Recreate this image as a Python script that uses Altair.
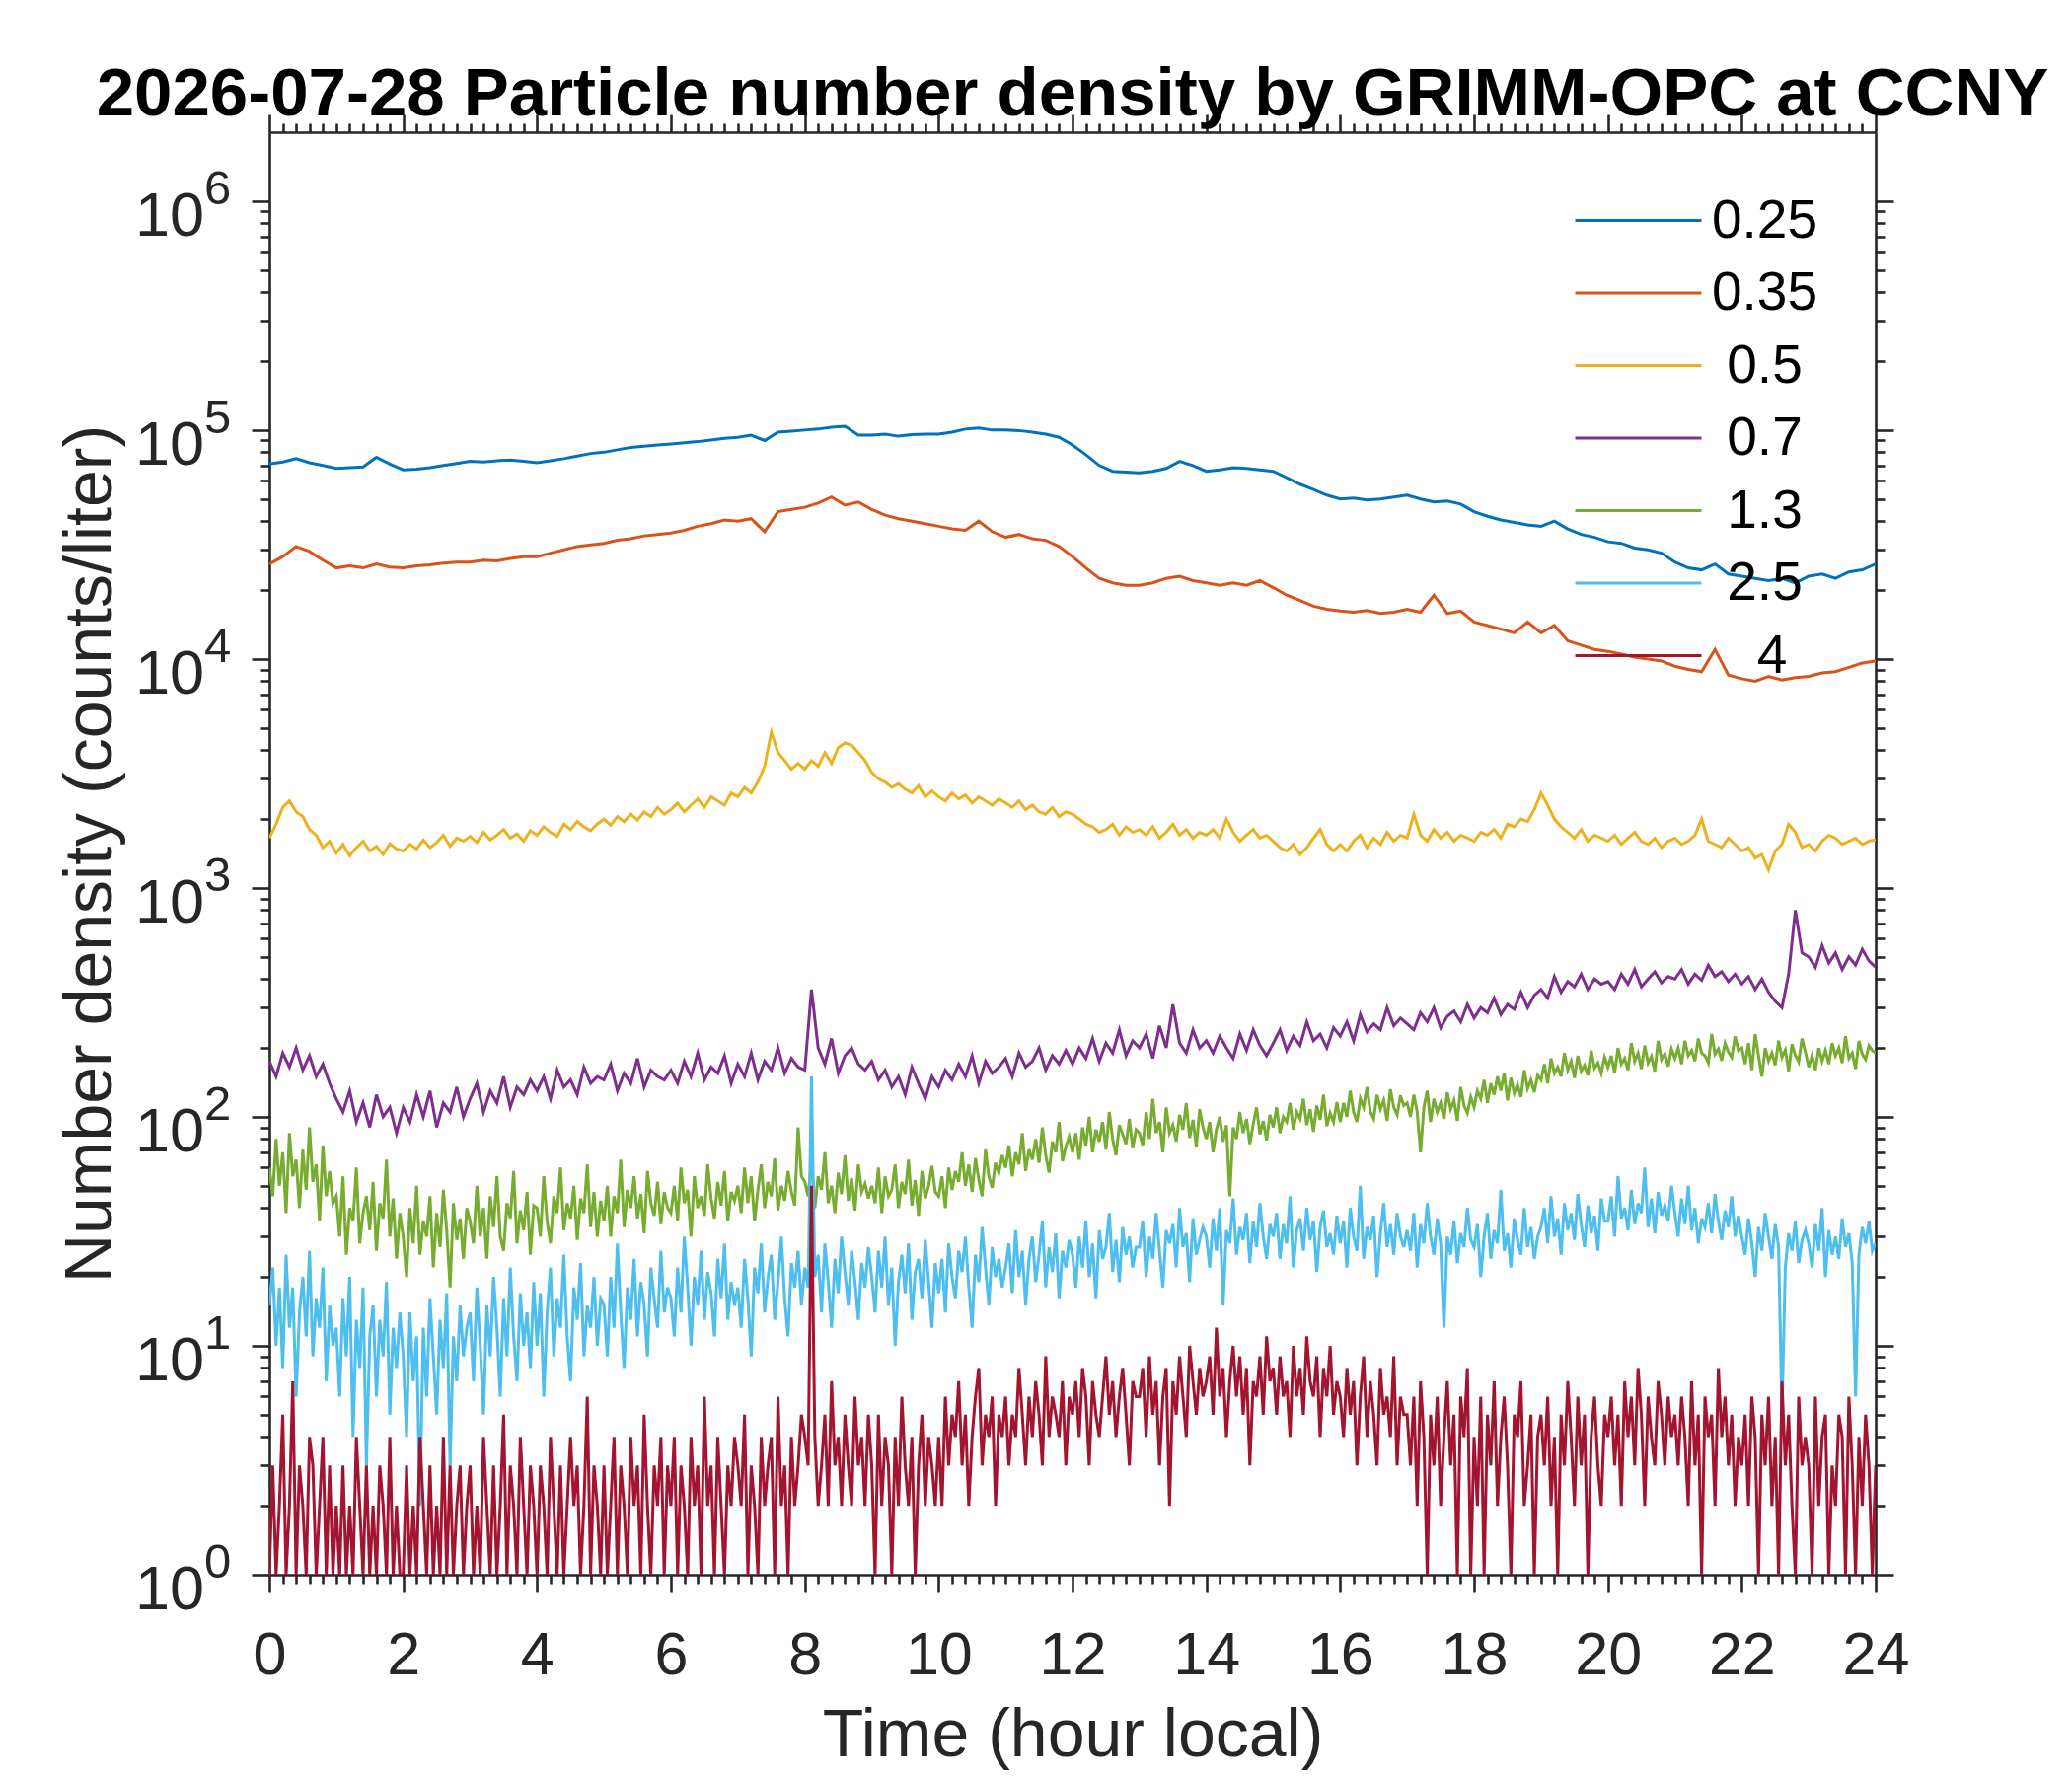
import altair as alt
import numpy as np
import pandas as pd

# time axis (hours): smooth channels read every 0.2 h, noisier ones every 0.1 h / 0.05 h
hours_coarse = np.round(np.arange(0, 24.001, 0.2), 2)
hours_mid = np.round(np.arange(0, 24.001, 0.1), 2)
hours_fine = np.round(np.arange(0, 24.001, 0.05), 2)

# particle size channels (um) as shown in the legend (padded like MATLAB num2str), MATLAB colours
# a zero-width space keeps Vega from trimming the leading spaces
pad = "\u200b\u00a0"
size_labels = ["0.25", "0.35", pad + "0.5", pad + "0.7", pad + "1.3", pad + "2.5",
               pad + "\u00a0\u00a04"]
colors = ["#0072BD", "#D95319", "#EDB120", "#7E2F8E", "#77AC30", "#4DBEEE", "#A2142F"]

# 0.25 um (every 0.2 h)
n_025 = [71000, 72500, 75000, 72000, 70000,
         68000, 68500, 69000, 76000, 71000,
         67000, 67500, 68500, 70000, 71500,
         73000, 72500, 73500, 74000, 73000,
         72000, 73500, 75000, 77000, 79000,
         80000, 82000, 84000, 85000, 86000,
         87000, 88000, 89000, 90500, 92000,
         93000, 95000, 90000, 98000, 99000,
         100000, 101000, 103000, 104000, 95000,
         95000, 96000, 94000, 95500, 96000,
         96000, 98000, 101000, 102000, 100000,
         100000, 99500, 98000, 96000, 93000,
         86000, 78000, 70000, 66000, 65500,
         65000, 66000, 68000, 73000, 70000,
         66000, 67000, 68500, 68000, 67000,
         66000, 62000, 58000, 55000, 52000,
         50000, 50500, 49500, 50000, 51000,
         52000, 50000, 48500, 49000, 47500,
         44000, 42000, 40500, 39500, 38500,
         38000, 40000, 37000, 35000, 34000,
         32500, 32000, 30500, 30000, 29000,
         26500, 25000, 24500, 26000, 23500,
         23000, 22500, 22000, 22500, 21500,
         23000, 23500, 22500, 24000, 24500,
         26000]

# 0.35 um (every 0.2 h)
n_035 = [26000, 28000, 31000, 29500, 27000,
         25000, 25500, 25000, 26000, 25200,
         25000, 25500, 25800, 26200, 26500,
         26500, 27000, 26800, 27500, 28000,
         28000, 29000, 30000, 31000, 31500,
         32000, 33000, 33500, 34500, 35000,
         35500, 36500, 38000, 39000, 40500,
         40000, 41000, 36000, 44000, 45000,
         46000, 48000, 51000, 47000, 48500,
         45000, 42500, 41000, 40000, 39000,
         38000, 37000, 36500, 40000, 36000,
         34000, 35000, 33500, 33000, 31000,
         28000, 25000, 22500, 21500, 21000,
         21000, 21500, 22500, 23000, 22000,
         21500, 21000, 21500, 21000, 22000,
         20500, 19000, 18000, 17000, 16500,
         16200, 16000, 16300, 15800, 16000,
         16500, 16000, 19000, 15800, 16200,
         14500, 14000, 13500, 13000, 14500,
         13000, 14000, 12000, 11500, 11000,
         10800, 10500, 10200, 10000, 9800,
         9300, 9000, 8800, 11000, 8500,
         8200, 8000, 8400, 8100, 8300,
         8400, 8700, 8800, 9200, 9600,
         9800]

# 0.5 um (every 0.1 h)
n_05 = [1650, 1900, 2250, 2400, 2150, 2050, 1800, 1700, 1500, 1600,
        1420, 1550, 1380, 1500, 1600, 1450, 1520, 1400, 1560, 1480,
        1450, 1550, 1480, 1620, 1500, 1580, 1700, 1520, 1650, 1600,
        1680, 1580, 1750, 1620, 1700, 1800, 1650, 1720, 1600, 1780,
        1700, 1850, 1750, 1680, 1900, 1800, 1950, 1850, 1780, 1900,
        2000, 1880, 2050, 1950, 2100, 1980, 2150, 2050, 2250, 2100,
        2200, 2350, 2150, 2300, 2450, 2250, 2500, 2400, 2300, 2600,
        2500, 2750, 2600, 2900, 3400, 4800, 3900, 3600, 3300, 3500,
        3300, 3600, 3400, 3900, 3500, 4100, 4300, 4200, 3900, 3600,
        3200, 3000, 2900, 2750, 2850, 2700, 2600, 2800, 2500, 2650,
        2500, 2400, 2600, 2450, 2550, 2350, 2500, 2400, 2300, 2450,
        2350, 2250, 2400, 2200, 2300, 2150, 2100, 2250, 2050, 2150,
        2100, 2000, 1900, 1850, 1750, 1800, 1900, 1700, 1850, 1750,
        1800, 1700, 1850, 1650, 1750, 1900, 1700, 1800, 1650, 1750,
        1700, 1800, 1650, 2000, 1750, 1600, 1700, 1800, 1650, 1700,
        1600, 1500, 1450, 1550, 1400, 1500, 1650, 1800, 1550, 1450,
        1550, 1450, 1600, 1700, 1500, 1650, 1550, 1750, 1600, 1700,
        1650, 2100, 1700, 1600, 1800, 1650, 1750, 1600, 1700, 1650,
        1600, 1750, 1700, 1800, 1650, 1900, 1850, 2000, 1950, 2200,
        2600, 2300, 2000, 1850, 1750, 1650, 1800, 1600, 1700, 1650,
        1600, 1700, 1550, 1650, 1750, 1600, 1550, 1650, 1500, 1600,
        1650, 1550, 1600, 1700, 2000, 1600, 1550, 1500, 1650, 1550,
        1450, 1500, 1350, 1400, 1200, 1450, 1550, 1900, 1750, 1500,
        1550, 1450, 1600, 1700, 1650, 1550, 1600, 1650, 1550, 1600,
        1620]

# 0.7 um (every 0.1 h)
n_07 = [175, 150, 190, 165, 200, 160, 185, 150, 170, 140,
        120, 105, 130, 95, 115, 90, 125, 100, 110, 85,
        110, 95, 125, 100, 130, 90, 115, 105, 135, 100,
        120, 140, 105, 130, 115, 150, 110, 135, 125, 145,
        130, 150, 120, 160, 135, 145, 125, 165, 140, 150,
        145, 170, 130, 155, 140, 180, 135, 160, 150, 145,
        160, 140, 175, 150, 190, 145, 165, 155, 185, 140,
        170, 150, 190, 145, 175, 160, 200, 155, 180, 165,
        160, 360, 200, 170, 220, 155, 185, 200, 170, 160,
        175, 145, 160, 135, 150, 125, 165, 140, 120, 150,
        135, 160, 145, 170, 150, 185, 140, 175, 155, 165,
        180, 150, 190, 165, 175, 200, 160, 185, 170, 195,
        170, 200, 180, 220, 175, 210, 190, 240, 185, 215,
        200, 230, 180, 250, 200, 310, 210, 190, 240, 200,
        215, 190, 225, 200, 180, 230, 195, 240, 205, 185,
        210, 240, 195, 225, 205, 260, 215, 230, 200, 245,
        225, 260, 215, 280, 235, 255, 240, 300, 250, 270,
        255, 240, 285, 260, 300, 245, 275, 290, 260, 310,
        270, 300, 285, 330, 280, 310, 295, 350, 300, 340,
        360, 330, 410, 350, 390, 370, 420, 360, 400, 380,
        390, 360, 420, 380, 440, 370, 400, 430, 385, 410,
        400, 440, 380, 420, 395, 460, 410, 430, 390, 420,
        380, 410, 360, 400, 350, 320, 300, 420, 800, 520,
        500, 450, 560, 470, 520, 440, 500, 460, 540, 480,
        450]

# 1.3 um (every 0.05 h)
n_13 = [60, 45, 80, 50, 70, 38, 85, 55, 65, 40,
        72, 48, 90, 52, 62, 35, 75, 45, 58, 42,
        45, 30, 55, 25, 40, 35, 60, 28, 38, 45,
        32, 52, 26, 42, 36, 65, 30, 44, 24, 38,
        30, 20, 40, 28, 50, 25, 35, 30, 45, 22,
        38, 27, 48, 32, 18, 42, 29, 36, 24, 40,
        35, 28, 50, 30, 40, 24, 45, 33, 55, 30,
        26, 42, 36, 58, 28, 39, 32, 47, 25, 41,
        40, 30, 55, 35, 28, 45, 38, 60, 32, 42,
        36, 50, 29, 44, 38, 62, 33, 47, 30, 43,
        35, 50, 30, 45, 38, 65, 33, 48, 40, 55,
        36, 46, 31, 58, 42, 37, 52, 34, 47, 40,
        38, 50, 35, 60, 42, 48, 30, 55, 40, 45,
        37, 62, 44, 36, 52, 41, 58, 35, 47, 43,
        50, 38, 60, 42, 55, 35, 48, 62, 40, 52,
        45, 66, 39, 50, 43, 58, 47, 41, 90, 55,
        52, 45, 65, 40, 55, 48, 70, 42, 50, 38,
        57, 46, 68, 43, 54, 39, 62, 47, 51, 44,
        50, 42, 60, 38, 55, 45, 48, 62, 40, 52,
        46, 65, 41, 53, 37, 58, 44, 50, 61, 47,
        45, 55, 40, 60, 48, 58, 52, 70, 50, 62,
        47, 66, 53, 45, 72, 55, 49, 63, 57, 68,
        60, 75, 55, 70, 62, 85, 58, 72, 65, 80,
        63, 90, 68, 57, 78, 70, 95, 64, 74, 82,
        70, 85, 65, 90, 75, 100, 70, 88, 78, 95,
        72, 105, 80, 68, 92, 84, 76, 98, 73, 88,
        85, 75, 105, 80, 120, 85, 95, 70, 110, 85,
        92, 78, 102, 88, 115, 81, 97, 74, 108, 90,
        80, 95, 70, 88, 100, 78, 92, 45, 90, 80,
        105, 85, 98, 76, 93, 110, 84, 96, 79, 102,
        90, 110, 85, 100, 95, 115, 88, 105, 98, 120,
        92, 108, 86, 112, 97, 125, 91, 104, 95, 116,
        95, 115, 100, 130, 105, 95, 120, 110, 135, 105,
        98, 125, 108, 118, 96, 132, 110, 102, 124, 112,
        115, 100, 125, 105, 70, 110, 130, 95, 120, 105,
        115, 98, 128, 108, 118, 96, 135, 112, 104, 122,
        110, 130, 120, 145, 115, 140, 125, 150, 130, 155,
        118, 148, 127, 138, 122, 160, 133, 145, 128, 152,
        145, 170, 140, 180, 155, 165, 150, 190, 160, 175,
        148, 185, 158, 168, 152, 195, 163, 172, 155, 182,
        165, 185, 155, 200, 170, 180, 160, 210, 175, 190,
        162, 205, 172, 184, 158, 215, 178, 188, 166, 198,
        180, 200, 170, 215, 185, 195, 175, 220, 190, 185,
        172, 230, 188, 198, 176, 210, 192, 182, 225, 195,
        200, 170, 210, 160, 230, 185, 150, 200, 175, 190,
        168, 215, 182, 196, 158, 208, 186, 174, 220, 192,
        165, 185, 160, 200, 175, 195, 170, 210, 185, 200,
        172, 225, 180, 190, 162, 215, 188, 178, 205, 195,
        190]

# 2.5 um (every 0.05 h)
n_25 = [15, 22, 10, 18, 8, 25, 12, 18, 6, 14,
        20, 11, 26, 9, 16, 12, 22, 7, 15, 10,
        12, 6, 16, 9, 20, 4, 13, 8, 18, 3,
        11, 15, 6, 13, 9, 19, 5, 12, 8, 14,
        9, 4, 14, 7, 11, 2, 12, 6, 16, 9,
        5, 13, 8, 17, 3, 11, 7, 15, 9, 12,
        14, 7, 18, 10, 5, 15, 9, 20, 12, 6,
        16, 9, 22, 11, 7, 17, 10, 14, 8, 19,
        10, 17, 6, 14, 22, 9, 16, 12, 25, 11,
        7, 18, 13, 23, 9, 15, 12, 20, 10, 16,
        15, 9, 20, 12, 28, 14, 8, 18, 13, 24,
        11, 19, 15, 9, 22, 16, 12, 26, 14, 18,
        16, 11, 22, 14, 30, 18, 10, 20, 15, 26,
        13, 21, 17, 11, 24, 16, 28, 13, 19, 15,
        18, 12, 24, 16, 9, 22, 17, 28, 14, 20,
        25, 13, 19, 30, 16, 11, 23, 18, 26, 15,
        22, 18, 150, 20, 25, 14, 28, 19, 12, 24,
        17, 30, 21, 15, 26, 19, 13, 23, 18, 27,
        20, 14, 26, 18, 30, 15, 22, 10, 19, 25,
        17, 28, 13, 21, 24, 16, 29, 19, 12, 23,
        17, 24, 14, 28, 20, 16, 26, 21, 30, 18,
        12, 25, 19, 33, 22, 15, 27, 20, 24, 18,
        22, 28, 17, 32, 20, 26, 15, 24, 30, 19,
        25, 35, 18, 27, 21, 31, 16, 26, 22, 29,
        25, 18, 30, 22, 35, 20, 28, 16, 32, 24,
        27, 38, 21, 29, 19, 33, 25, 30, 22, 27,
        27, 35, 20, 30, 24, 38, 26, 18, 32, 28,
        34, 22, 40, 27, 31, 19, 36, 25, 29, 33,
        30, 22, 36, 26, 40, 15, 32, 28, 44, 25,
        33, 29, 38, 23, 35, 27, 42, 30, 24, 34,
        30, 38, 24, 34, 28, 45, 22, 32, 36, 26,
        40, 29, 35, 21, 33, 39, 27, 31, 25, 37,
        28, 35, 22, 40, 30, 26, 50, 24, 33, 29,
        37, 20, 31, 42, 27, 34, 25, 38, 30, 27,
        32, 26, 38, 22, 34, 28, 42, 30, 25, 36,
        28, 12, 30, 25, 35, 23, 31, 27, 40, 29,
        27, 34, 20, 30, 38, 24, 32, 28, 48, 26,
        31, 22, 36, 29, 25, 40, 27, 33, 24, 30,
        33, 40, 28, 45, 30, 36, 25, 42, 32, 38,
        29, 46, 34, 27, 41, 31, 37, 26, 44, 35,
        35, 45, 30, 55, 36, 40, 32, 48, 34, 42,
        38, 60, 33, 44, 31, 47, 37, 41, 35, 50,
        38, 30, 44, 34, 50, 32, 40, 28, 36, 33,
        42, 31, 46, 35, 29, 39, 33, 45, 30, 37,
        30, 25, 36, 28, 20, 33, 26, 38, 30, 24,
        34, 27, 5, 22, 31, 26, 35, 23, 29, 32,
        28, 22, 34, 26, 40, 20, 32, 25, 30, 24,
        36, 27, 31, 23, 6, 25, 33, 28, 35, 26,
        28]

# 4 um (every 0.05 h)
n_4 = [1, 3, 1, 2, 5, 1, 2, 7, 1, 3,
       2, 1, 4, 3, 1, 2, 4, 1, 3, 1,
       2, 1, 3, 1, 2, 1, 4, 2, 1, 3,
       1, 2, 1, 3, 2, 1, 4, 1, 2, 1,
       1, 3, 1, 2, 1, 4, 2, 1, 3, 1,
       2, 1, 4, 1, 3, 1, 2, 3, 1, 2,
       3, 1, 2, 1, 4, 2, 1, 3, 1, 2,
       5, 1, 3, 2, 1, 4, 2, 1, 3, 2,
       1, 3, 2, 1, 4, 2, 1, 3, 1, 2,
       4, 2, 3, 1, 2, 6, 1, 3, 2, 1,
       3, 1, 2, 4, 1, 3, 2, 1, 4, 2,
       3, 1, 5, 2, 1, 3, 2, 4, 1, 3,
       2, 4, 1, 3, 2, 1, 4, 2, 3, 1,
       6, 2, 3, 1, 4, 2, 1, 3, 2, 4,
       3, 2, 5, 1, 3, 2, 1, 4, 2, 3,
       4, 1, 6, 2, 3, 1, 4, 2, 3, 5,
       4, 3, 50, 4, 2, 3, 5, 2, 7, 3,
       4, 2, 5, 3, 2, 6, 3, 4, 2, 5,
       3, 1, 5, 2, 4, 3, 1, 4, 2, 6,
       3, 2, 4, 1, 3, 5, 2, 4, 3, 2,
       4, 2, 6, 3, 5, 4, 7, 3, 5, 2,
       4, 6, 8, 3, 5, 4, 6, 2, 5, 4,
       6, 3, 5, 4, 8, 5, 3, 6, 4, 7,
       5, 3, 9, 4, 6, 5, 4, 7, 3, 6,
       5, 7, 4, 8, 6, 3, 7, 5, 4, 6,
       9, 5, 7, 4, 6, 8, 5, 3, 7, 6,
       6, 8, 4, 9, 5, 7, 3, 6, 8, 2,
       7, 5, 9, 6, 4, 10, 7, 5, 8, 6,
       7, 9, 5, 12, 6, 8, 4, 7, 10, 6,
       9, 5, 8, 3, 7, 6, 9, 5, 11, 7,
       8, 5, 9, 6, 7, 4, 10, 6, 8, 5,
       11, 7, 6, 9, 4, 8, 6, 10, 5, 7,
       6, 4, 8, 5, 7, 3, 6, 9, 4, 7,
       5, 3, 8, 5, 6, 4, 9, 3, 6, 5,
       5, 3, 6, 2, 7, 4, 1, 5, 3, 6,
       2, 4, 7, 3, 5, 1, 6, 4, 8, 1,
       4, 2, 6, 1, 5, 3, 7, 2, 4, 6,
       3, 1, 5, 4, 7, 2, 3, 5, 1, 4,
       5, 3, 6, 2, 4, 1, 5, 3, 7, 4,
       2, 6, 3, 5, 1, 4, 6, 3, 2, 5,
       4, 6, 3, 5, 2, 7, 4, 6, 3, 8,
       5, 2, 6, 4, 3, 7, 5, 3, 6, 4,
       5, 3, 6, 4, 2, 7, 3, 5, 1, 6,
       4, 5, 2, 8, 4, 6, 3, 5, 2, 4,
       3, 5, 2, 6, 4, 1, 5, 3, 6, 2,
       4, 1, 7, 3, 5, 2, 1, 6, 3, 4,
       3, 1, 6, 2, 4, 5, 1, 3, 2, 5,
       4, 1, 6, 3, 1, 4, 2, 5, 3, 1,
       3]

series = [n_025, n_035, n_05, n_07, n_13, n_25, n_4]
grids = [hours_coarse, hours_coarse, hours_mid, hours_mid, hours_fine, hours_fine, hours_fine]

frames = []
for label, hrs, vals in zip(size_labels, grids, series):
    assert len(hrs) == len(vals), (label, len(hrs), len(vals))
    frames.append(pd.DataFrame({"hour": hrs, "n": vals, "size": label}))
df = pd.concat(frames, ignore_index=True)

# tick positions
x_major = list(range(0, 25, 2))
x_minor = [round(h, 1) for h in np.arange(0, 24.001, 0.2) if abs(h / 2 - round(h / 2)) > 1e-6]
exponents = list(range(0, 7))
y_major = [10 ** k for k in exponents]
y_minor = [m * 10 ** k for k in range(0, 6) for m in range(2, 10)]
decades = pd.DataFrame({"v": y_major, "exp": [str(k) for k in exponents]})

axis_gray = "#262626"
font = "Liberation Sans"

xs = alt.Scale(domain=[0, 24], nice=False, zero=False)
ys = alt.Scale(type="log", domain=[1, 2e6], nice=False)

base = alt.Chart(df)

lines = base.mark_line(strokeWidth=3, clip=True).encode(
    x=alt.X("hour:Q", scale=xs, axis=alt.Axis(
        orient="bottom", values=x_major, format="d", tickSize=18,
        labelFontSize=61, labelPadding=34, labelFlush=False, labelOverlap=False,
        title="Time (hour local)", titleY=183, titleBaseline="alphabetic")),
    y=alt.Y("n:Q", scale=ys, axis=alt.Axis(
        orient="left", values=y_major, labels=False, tickSize=18,
        title="Number density (counts/liter)", titleX=-161, titleBaseline="alphabetic")),
    color=alt.Color("size:N", scale=alt.Scale(domain=size_labels, range=colors),
                    legend=alt.Legend(
                        title=None, orient="none", legendX=1322, legendY=62, padding=0,
                        symbolType="M-5,0H5", symbolSize=655, symbolStrokeWidth=3,
                        symbolOffset=38, labelOffset=47, rowPadding=17.5,
                        labelFontSize=55, labelFont=font, labelColor="black", labelLimit=0)),
)

# invisible layers that only carry the extra axes (minor ticks, top and right box)
ghost = base.mark_line(strokeOpacity=0, clip=True)

minor_bl = ghost.encode(
    x=alt.X("hour:Q", scale=xs, axis=alt.Axis(orient="bottom", values=x_minor, labels=False,
                                             tickSize=9, domain=False, title=None)),
    y=alt.Y("n:Q", scale=ys, axis=alt.Axis(orient="left", values=y_minor, labels=False,
                                          tickSize=9, domain=False, title=None)),
)
major_tr = ghost.encode(
    x=alt.X("hour:Q", scale=xs, axis=alt.Axis(orient="top", values=x_major, labels=False,
                                             tickSize=18, title=None)),
    y=alt.Y("n:Q", scale=ys, axis=alt.Axis(orient="right", values=y_major, labels=False,
                                          tickSize=18, title=None)),
)
minor_tr = ghost.encode(
    x=alt.X("hour:Q", scale=xs, axis=alt.Axis(orient="top", values=x_minor, labels=False,
                                             tickSize=9, domain=False, title=None)),
    y=alt.Y("n:Q", scale=ys, axis=alt.Axis(orient="right", values=y_minor, labels=False,
                                          tickSize=9, domain=False, title=None)),
)

# y tick labels drawn as 10 with a raised exponent
tens = alt.Chart(decades).mark_text(
    text="10", align="right", baseline="alphabetic", dy=35,
    fontSize=63, font=font, color=axis_gray,
).encode(x=alt.value(-66), y=alt.Y("v:Q", scale=ys, axis=None))

sups = alt.Chart(decades).mark_text(
    align="left", baseline="alphabetic", dy=3,
    fontSize=49, font=font, color=axis_gray,
).encode(x=alt.value(-66), y=alt.Y("v:Q", scale=ys, axis=None), text="exp:N")

chart = (
    alt.layer(lines, minor_bl, major_tr, minor_tr, tens, sups)
    .resolve_axis(x="independent", y="independent")
    .properties(
        width=1628, height=1462,
        autosize=alt.AutoSizeParams(type="none"),
        padding={"left": 265, "top": 126, "right": 191, "bottom": 215},
        title=alt.TitleParams(
            "2026-07-28 Particle number density by GRIMM-OPC at CCNY",
            fontSize=69, fontWeight="bold", font=font, color="black",
            anchor="middle", baseline="alphabetic", offset=-71),
    )
    .configure_view(stroke=None)
    .configure_axis(
        grid=False, domainColor=axis_gray, tickColor=axis_gray, domainWidth=2.6, tickWidth=2.6,
        labelColor=axis_gray, labelFont=font, titleFont=font, titleFontSize=68,
        titleFontWeight="normal", titleColor=axis_gray,
    )
)

chart.save("out.html", embed_options={"renderer": "svg", "actions": False})
